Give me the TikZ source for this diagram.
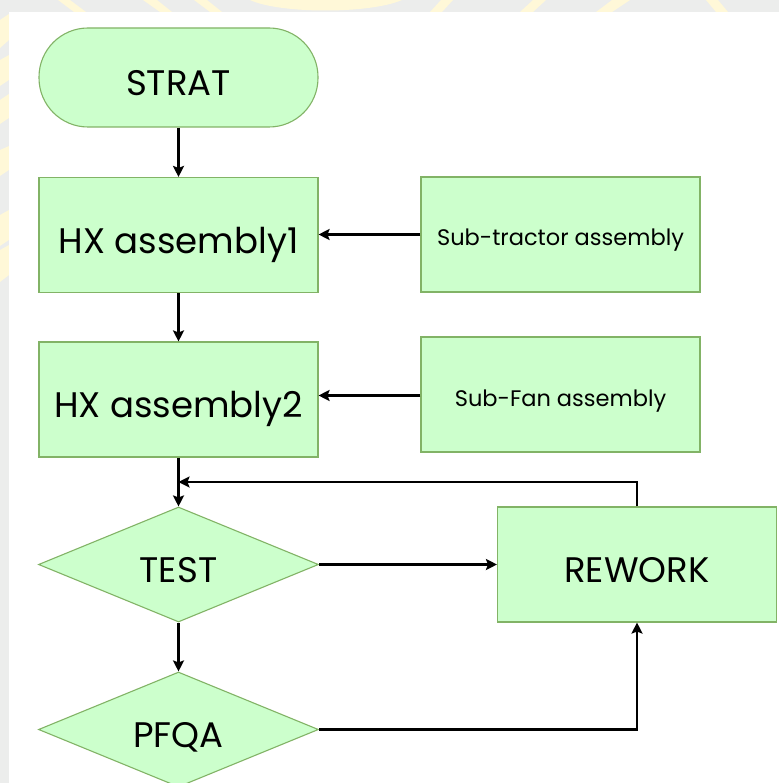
\documentclass[tikz,border=0pt]{standalone}
\usepackage{fontspec}
\setmainfont{Poppins}
\usetikzlibrary{shapes.geometric,arrows.meta}

\definecolor{boxfill}{HTML}{CCFFCC}
\definecolor{boxline}{HTML}{82B366}
\definecolor{pagegray}{HTML}{ECEDEC}
\definecolor{markyellow}{HTML}{FFF8D8}

\tikzset{
  base/.style={draw=boxline, fill=boxfill, line width=1.1pt, inner sep=0pt, align=center},
  bigtext/.style={font=\fontsize{35.5}{38}\selectfont, text height=36.5pt, text depth=0pt},
  smalltext/.style={font=\fontsize{22.5}{25}\selectfont, text height=23pt, text depth=0pt},
  terminal/.style={base, bigtext, rounded corners=49pt, minimum width=279pt, minimum height=99pt},
  process/.style={base, bigtext, rectangle, minimum width=279pt, minimum height=115pt},
  subproc/.style={base, smalltext, rectangle, minimum width=279pt, minimum height=115pt},
  decision/.style={base, bigtext, diamond, shape aspect=2.4, minimum width=280pt, minimum height=115pt},
  flow/.style={line width=2.3pt, draw=black, -{Stealth[length=11pt,width=11pt,inset=2pt]}},
}

\begin{document}
\begin{tikzpicture}[x=1pt,y=-1pt]
  \useasboundingbox (0,0) rectangle (779,783);
  % page backdrop and faint watermark strokes
  \fill[pagegray] (0,0) rectangle (779,783);
  \begin{scope}
    \clip (0,0) rectangle (779,12) (0,0) rectangle (9,783);
    \fill[markyellow] (58,0) -- (70,0) -- (86,12) -- (74,12) -- cycle;
    \fill[markyellow] (143,0) -- (157,0) -- (172,12) -- (160,12) -- cycle;
    \fill[markyellow] (194,0) -- (207,0) -- (222,12) -- (210,12) -- cycle;
    \fill[markyellow] (250,0) .. controls (280,14) and (370,14) .. (402,0) -- cycle;
    \fill[markyellow] (430,12) -- (441,0) -- (453,0) -- (442,12) -- cycle;
    \fill[markyellow] (520,12) -- (533,0) -- (546,0) -- (533,12) -- cycle;
    \fill[markyellow] (596,12) -- (612,0) -- (630,0) -- (612,12) -- cycle;
    \fill[markyellow] (706,0) -- (718,0) -- (728,12) -- (716,12) -- cycle;
    \fill[markyellow] (0,20) -- (9,14) -- (9,40) -- (0,48) -- cycle;
    \fill[markyellow] (0,60) -- (9,55) -- (9,80) -- (0,86) -- cycle;
    \fill[markyellow] (0,100) -- (9,94) -- (9,118) -- (0,124) -- cycle;
    \fill[markyellow] (0,150) -- (9,146) -- (9,170) -- (0,176) -- cycle;
    \fill[markyellow] (0,215) -- (9,210) -- (9,240) -- (0,246) -- cycle;
    \fill[markyellow] (0,250) -- (9,245) -- (9,275) -- (0,282) -- cycle;
  \end{scope}
  \fill[white] (9,12) rectangle (779,783);

  % flow nodes
  \node[terminal] (start) at (178.5,77.5) {STRAT};
  \node[process]  (hx1)   at (178.5,235)  {HX assembly1};
  \node[subproc]  (subtr) at (560.5,234.5) {Sub-tractor assembly};
  \node[process]  (hx2)   at (178.5,399.5) {HX assembly2};
  \node[subproc]  (subfan) at (560.5,394.5) {Sub-Fan assembly};
  \node[decision] (test)  at (178.5,564.5) {TEST};
  \node[process]  (rework) at (637,564.5) {REWORK};
  \node[decision] (pfqa)  at (178.5,729.5) {PFQA};
  \coordinate (merge) at (178.5,482);

  % connectors
  \draw[flow] (start) -- (hx1);
  \draw[flow] (subtr.west) -- (subtr.west -| hx1.east);
  \draw[flow] (hx1) -- (hx2);
  \draw[flow] ([yshift=-1pt]subfan.west) -- ([yshift=-1pt]subfan.west -| hx2.east);
  \draw[flow] (hx2) -- (test);
  \draw[flow] (rework.north) |- (merge);
  \draw[flow] (test.east) -- (rework.west);
  \draw[flow] (test) -- (pfqa);
  \draw[flow] (pfqa.east) -| (rework.south);
\end{tikzpicture}
\end{document}
